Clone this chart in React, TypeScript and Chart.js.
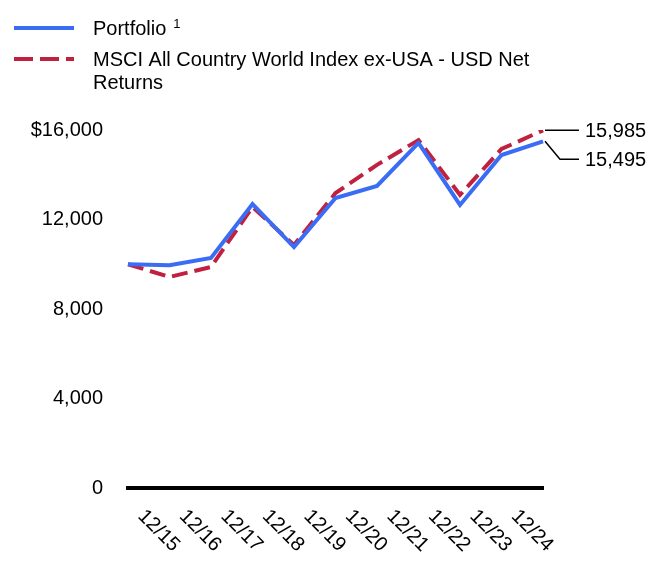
import React, { useEffect, useRef } from "react";
import { Chart, registerables } from "chart.js";

Chart.register(...registerables);

const xLabels = ["12/15", "12/16", "12/17", "12/18", "12/19", "12/20", "12/21", "12/22", "12/23", "12/24"];
const pointKeys = ["p0", "p1", "p2", "p3", "p4", "p5", "p6", "p7", "p8", "p9", "p10"];
const portfolio = [10000, 9960, 10280, 12690, 10770, 12960, 13500, 15420, 12650, 14880, 15495];
const msci = [10000, 9430, 9880, 12560, 10860, 13180, 14440, 15550, 13100, 15150, 15985];
const yTicks = [0, 4000, 8000, 12000, 16000];
const seriesNames = ["Portfolio", "MSCI All Country World Index ex-USA - USD Net", "Returns"];

const BLUE = "#3a6cf4";
const RED = "#c0213f";
const FONT = "'Liberation Sans', Arial, sans-serif";

const fmt = (v: number) => v.toLocaleString("en-US");

const overlay = {
  id: "overlay",
  afterDraw(chart: any) {
    const ctx = chart.ctx;
    const xs = chart.scales.x;
    const ys = chart.scales.y;
    ctx.save();
    // legend
    ctx.lineCap = "butt";
    ctx.strokeStyle = BLUE;
    ctx.lineWidth = 4;
    ctx.beginPath();
    ctx.moveTo(14, 28);
    ctx.lineTo(74, 28);
    ctx.stroke();
    ctx.strokeStyle = RED;
    ctx.setLineDash([19, 7]);
    ctx.beginPath();
    ctx.moveTo(14, 59);
    ctx.lineTo(74, 59);
    ctx.stroke();
    ctx.setLineDash([]);
    ctx.fillStyle = "#000";
    ctx.textAlign = "left";
    ctx.textBaseline = "middle";
    ctx.font = `20px ${FONT}`;
    ctx.fillText(seriesNames[0], 93, 29);
    const w = ctx.measureText(seriesNames[0]).width;
    ctx.font = `13px ${FONT}`;
    ctx.fillText("1", 93 + w + 7, 24);
    ctx.font = `20px ${FONT}`;
    ctx.fillText(seriesNames[1], 93, 60);
    ctx.fillText(seriesNames[2], 93, 83);

    // end labels
    const last = portfolio.length - 1;
    const xe = xs.getPixelForValue(last);
    const yr = ys.getPixelForValue(msci[last]);
    const yb = ys.getPixelForValue(portfolio[last]);
    ctx.strokeStyle = "#000";
    ctx.lineWidth = 1.5;
    ctx.beginPath();
    ctx.moveTo(xe + 2, yr);
    ctx.lineTo(xe + 36, yr);
    ctx.stroke();
    const yb2 = yr + 29;
    ctx.beginPath();
    ctx.moveTo(xe + 2, yb);
    ctx.lineTo(xe + 17, yb2);
    ctx.lineTo(xe + 36, yb2);
    ctx.stroke();
    ctx.font = `20px ${FONT}`;
    ctx.fillText(fmt(msci[last]), xe + 42, yr + 1);
    ctx.fillText(fmt(portfolio[last]), xe + 42, yb2 + 1);

    // x labels rotated
    const base = chart.chartArea.bottom;
    ctx.font = `20px ${FONT}`;
    ctx.textAlign = "left";
    ctx.textBaseline = "top";
    xLabels.forEach((lab, i) => {
      const px = xs.getPixelForValue(i);
      ctx.save();
      ctx.translate(px + 20, base + 18);
      ctx.rotate(Math.PI / 4);
      ctx.fillText(lab, 0, 0);
      ctx.restore();
    });
    ctx.restore();
  },
};

export default function App() {
  const ref = useRef<HTMLCanvasElement>(null);
  useEffect(() => {
    const chart = new Chart(ref.current!, {
      type: "line",
      data: {
        labels: pointKeys,
        datasets: [
          {
            label: "Portfolio",
            data: portfolio,
            borderColor: BLUE,
            borderWidth: 4,
            pointRadius: 0,
            tension: 0,
            fill: false,
          },
          {
            label: "MSCI",
            data: msci,
            borderColor: RED,
            borderWidth: 4,
            borderDash: [16, 7],
            pointRadius: 0,
            tension: 0,
            fill: false,
          },
        ],
      },
      options: {
        animation: false,
        responsive: false,
        maintainAspectRatio: false,
        layout: { padding: { left: 0, right: 129, top: 130, bottom: 0 } },
        plugins: { legend: { display: false }, tooltip: { enabled: false } },
        scales: {
          x: {
            type: "category",
            offset: false,
            grid: { display: false, drawTicks: false },
            border: { display: true, color: "#000", width: 4 },
            ticks: { display: false },
            afterFit: (s: any) => {
              s.height = 100;
            },
          },
          y: {
            min: 0,
            max: 16000,
            afterBuildTicks: (s: any) => {
              s.ticks = yTicks.map((v) => ({ value: v }));
            },
            grid: { display: false, drawTicks: false },
            border: { display: false },
            ticks: {
              padding: 25,
              color: "#000",
              font: { family: FONT, size: 20 },
              callback: (v: any) => (v === 16000 ? "$" + fmt(v) : fmt(v)),
            },
            afterFit: (s: any) => {
              s.width = 128;
            },
          },
        },
      },
      plugins: [overlay],
    });
    return () => chart.destroy();
  }, []);
  return (
    <div style={{ position: "fixed", left: 0, top: 0, width: 672, height: 588, background: "#fff" }}>
      <canvas ref={ref} width={672} height={588} style={{ display: "block" }} />
    </div>
  );
}
